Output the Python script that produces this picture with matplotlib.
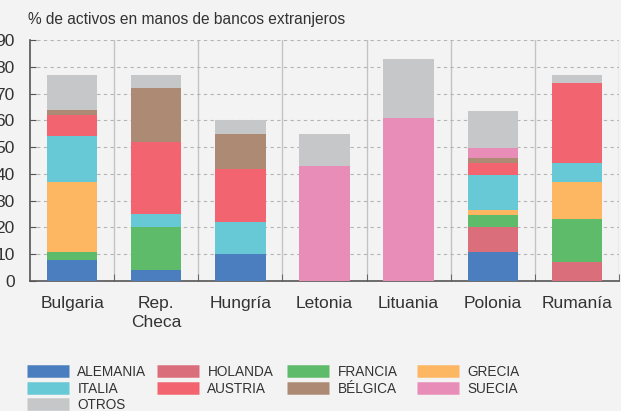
import matplotlib.pyplot as plt
from matplotlib.lines import Line2D

paises = ["Bulgaria", "Rep.\nCheca", "Hungría", "Letonia", "Lituania", "Polonia", "Rumanía"]
series = ["ALEMANIA", "HOLANDA", "FRANCIA", "GRECIA", "ITALIA", "AUSTRIA", "BÉLGICA", "SUECIA", "OTROS"]
colores = ["#4a7ebf", "#db6e7b", "#5dbb6a", "#fdb762", "#67c8d6", "#f2646f", "#ad8a74", "#e88cb8", "#c6c7c8"]

alemania = [8, 4, 10, 0, 0, 11, 0]
holanda = [0, 0, 0, 0, 0, 9, 7]
francia = [3, 16, 0, 0, 0, 4.5, 16]
grecia = [26, 0, 0, 0, 0, 2, 14]
italia = [17, 5, 12, 0, 0, 13, 7]
austria = [8, 27, 20, 0, 0, 4.5, 30]
belgica = [2, 20, 13, 0, 0, 2, 0]
suecia = [0, 0, 0, 43, 61, 3.5, 0]
otros = [13, 5, 5, 12, 22, 14, 3]

valores = [alemania, holanda, francia, grecia, italia, austria, belgica, suecia, otros]

fondo = "#f2f3f2"
texto = "#333333"

plt.rcParams['font.family'] = ['Liberation Sans', 'DejaVu Sans']

fig = plt.figure(figsize=(6.21, 4.11), dpi=100, facecolor=fondo)
ax = fig.add_axes([30 / 621, 1 - 281 / 411, 589 / 621, 241 / 411])
ax.set_facecolor(fondo)

x = list(range(len(paises)))
base = [0] * len(paises)
for nombre, vals, col in zip(series, valores, colores):
    ax.bar(x, vals, width=0.6, bottom=base, color=col, linewidth=0, zorder=3, label=nombre)
    base = [b + v for b, v in zip(base, vals)]

ax.set_xlim(-0.5, 6.5)
ax.set_ylim(0, 90)
ax.set_yticks(range(0, 91, 10))
ax.set_xticks(x)
ax.set_xticklabels(paises, fontsize=12.5, color=texto, linespacing=1.3)
ax.set_xticks([i + 0.5 for i in x], minor=True)
ax.tick_params(axis='x', which='major', length=0, pad=11)
ax.tick_params(axis='x', which='minor', direction='in', length=5, color='#555555')
ax.tick_params(axis='y', direction='in', length=4, color='#555555', labelsize=12.5, labelcolor=texto, pad=11)

ax.grid(axis='y', color='#b5b5b5', linestyle=(0, (3, 3)), linewidth=0.8, zorder=1)
for i in x:
    ax.axvline(i + 0.5, color='#c4c4c4', linewidth=1, zorder=1)

for lado in ['top', 'right']:
    ax.spines[lado].set_visible(False)
for lado in ['left', 'bottom']:
    ax.spines[lado].set_color('#555555')
    ax.spines[lado].set_linewidth(1.2)

fig.text(28 / 621, 1 - 24 / 411, "% de activos en manos de bancos extranjeros",
         fontsize=11.2, color=texto, va='baseline')

# leyenda: cuatro columnas, colocadas a mano
columnas = [[0, 4, 8], [1, 5], [2, 6], [3, 7]]
xs_col = [23, 153, 283, 413]
for idx, xc in zip(columnas, xs_col):
    handles = [Line2D([0], [0], color=colores[k], linewidth=9, solid_capstyle='butt') for k in idx]
    labels = [series[k] for k in idx]
    leg = fig.legend(handles, labels, loc='upper left', bbox_to_anchor=(xc / 621, 1 - 361 / 411),
                     frameon=False, handlelength=3.1, handletextpad=0.6, labelspacing=0.18,
                     borderaxespad=0, borderpad=0.3,
                     prop={'family': ['Liberation Sans'], 'size': 9.8})
    for t in leg.get_texts():
        t.set_color(texto)

fig.savefig("out.png", dpi=100, facecolor=fondo)
